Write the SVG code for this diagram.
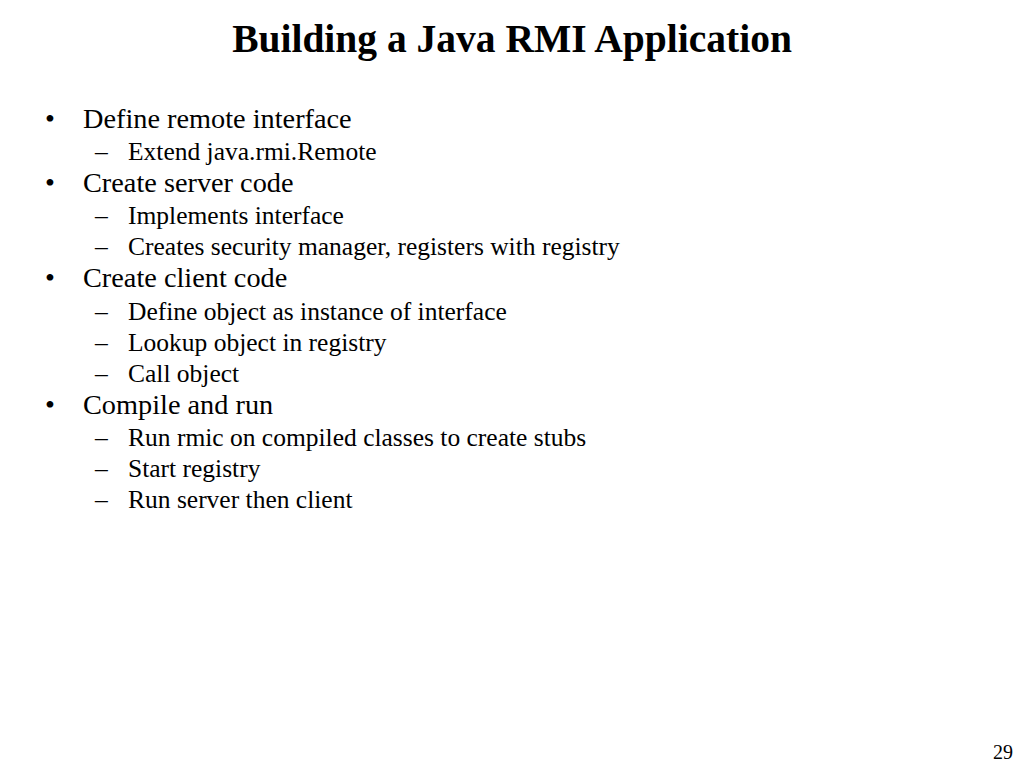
<svg xmlns="http://www.w3.org/2000/svg" width="1024" height="768" viewBox="0 0 1024 768">
<style>
text{font-family:"Liberation Serif","Times New Roman",serif;fill:#000}
.t{font-size:39.5px;font-weight:bold}
.l1{font-size:28.3px}
.l2{font-size:25.5px}
.pn{font-size:20px}
</style>
<rect width="1024" height="768" fill="#fff"/>
<text class="t" x="512" y="52" text-anchor="middle">Building a Java RMI Application</text>
<g id="list">
<text class="l1" x="45" y="128">•</text><text class="l1" x="83" y="128">Define remote interface</text>
<text class="l2" x="95" y="160">–</text><text class="l2" x="128" y="160">Extend java.rmi.Remote</text>
<text class="l1" x="45" y="192">•</text><text class="l1" x="83" y="192">Create server code</text>
<text class="l2" x="95" y="224">–</text><text class="l2" x="128" y="224">Implements interface</text>
<text class="l2" x="95" y="255">–</text><text class="l2" x="128" y="255">Creates security manager, registers with registry</text>
<text class="l1" x="45" y="287">•</text><text class="l1" x="83" y="287">Create client code</text>
<text class="l2" x="95" y="320">–</text><text class="l2" x="128" y="320">Define object as instance of interface</text>
<text class="l2" x="95" y="351">–</text><text class="l2" x="128" y="351">Lookup object in registry</text>
<text class="l2" x="95" y="382">–</text><text class="l2" x="128" y="382">Call object</text>
<text class="l1" x="45" y="414">•</text><text class="l1" x="83" y="414">Compile and run</text>
<text class="l2" x="95" y="446">–</text><text class="l2" x="128" y="446">Run rmic on compiled classes to create stubs</text>
<text class="l2" x="95" y="477">–</text><text class="l2" x="128" y="477">Start registry</text>
<text class="l2" x="95" y="508">–</text><text class="l2" x="128" y="508">Run server then client</text>
</g>
<text class="pn" x="1013" y="759" text-anchor="end">29</text>
</svg>
